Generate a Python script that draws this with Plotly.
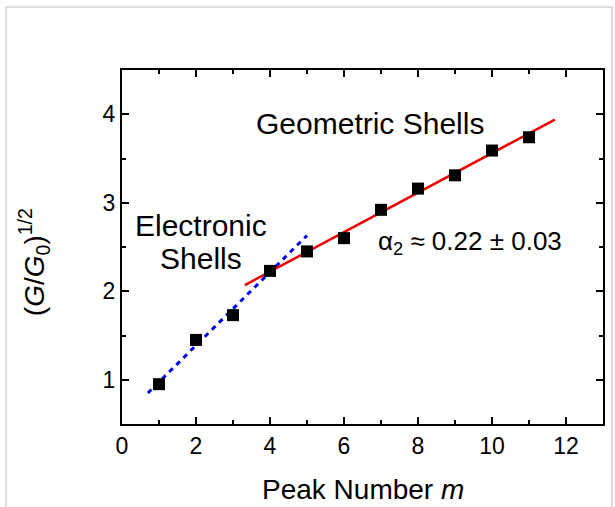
import plotly.graph_objects as go

peak = [1, 2, 3, 4, 5, 6, 7, 8, 9, 10, 11]
sqrt_g = [0.95, 1.45, 1.73, 2.23, 2.45, 2.60, 2.92, 3.16, 3.31, 3.59, 3.74]

elec_x = [0.7, 5.0]
elec_y = [0.85, 2.63]
geo_x = [3.32, 11.7]
geo_y = [2.07, 3.94]

FONT = "Liberation Sans, Arial, sans-serif"

fig = go.Figure()
fig.add_trace(go.Scatter(x=elec_x, y=elec_y, mode="lines",
                         line=dict(color="#0000ee", width=3, dash="5px,5px"), showlegend=False))
fig.add_trace(go.Scatter(x=geo_x, y=geo_y, mode="lines",
                         line=dict(color="#ee0000", width=2.5), showlegend=False))
fig.add_trace(go.Scatter(x=peak, y=sqrt_g, mode="markers",
                         marker=dict(symbol="square", size=12, color="black"), showlegend=False))

axis_common = dict(showline=True, linecolor="black", linewidth=2, mirror="ticks",
                   ticks="inside", ticklen=7, tickwidth=2, tickcolor="black",
                   showgrid=False, zeroline=False, automargin=False,
                   tickfont=dict(family=FONT, size=23, color="black"),
                   minor=dict(ticks="inside", ticklen=4, tickwidth=2, tickcolor="black"))

fig.update_layout(
    width=615, height=507,
    margin=dict(l=122, r=12, t=70, b=83),
    paper_bgcolor="white", plot_bgcolor="white",
    xaxis=dict(range=[0, 13], dtick=2, tick0=0, minor_dtick=1, **axis_common),
    yaxis=dict(range=[0.5, 4.5], dtick=1, tick0=0, minor_dtick=0.5, **axis_common),
    annotations=[
        dict(x=0.5, y=-0.186, xref="paper", yref="paper", yanchor="middle",
             text="Peak Number <i>m</i>", showarrow=False,
             font=dict(family=FONT, size=28, color="black")),
        dict(x=-0.228, y=0.458, xref="paper", yref="paper", textangle=-90,
             text="(<i>G</i>/<i>G</i><sub>0</sub>)<sup>1/2</sup>", showarrow=False,
             font=dict(family=FONT, size=28, color="black")),
        dict(x=6.7, y=3.90, xref="x", yref="y", text="Geometric Shells", showarrow=False,
             font=dict(family=FONT, size=30, color="black")),
        dict(x=2.14, y=2.74, xref="x", yref="y", text="Electronic", showarrow=False,
             font=dict(family=FONT, size=30, color="black")),
        dict(x=2.14, y=2.37, xref="x", yref="y", text="Shells", showarrow=False,
             font=dict(family=FONT, size=30, color="black")),
        dict(x=9.4, y=2.55, xref="x", yref="y", text="α<sub>2</sub> ≈ 0.22 ± 0.03",
             showarrow=False, font=dict(family=FONT, size=26, color="black")),
    ],
    shapes=[dict(type="rect", xref="paper", yref="paper", x0=-0.241, x1=1.0187, y0=-0.25, y1=1.178,
                 line=dict(color="#dddddd", width=2), fillcolor="rgba(0,0,0,0)", layer="below")],
)

fig.write_html("out.html")
